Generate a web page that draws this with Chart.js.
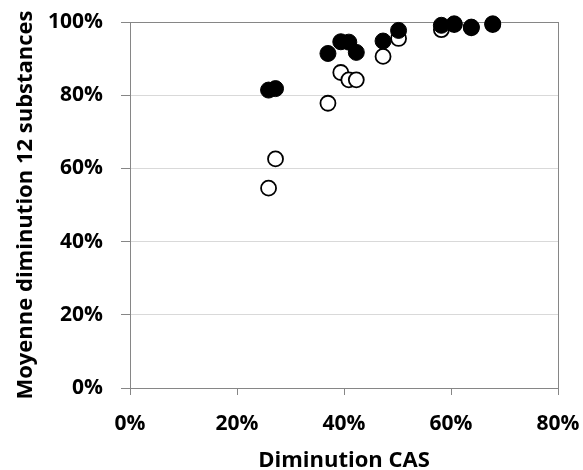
<!DOCTYPE html>
<html>
<head>
<meta charset="utf-8">
<script src="https://cdn.jsdelivr.net/npm/chart.js@4/dist/chart.umd.min.js"></script>
<style>
html,body{margin:0;padding:0;background:#fff;}
#wrap{width:583px;height:470px;}
</style>
</head>
<body>
<div id="wrap"><canvas id="c" width="583" height="470"></canvas></div>
<script>
// Diminution CAS (%) for each sample
const casReduction = [25.9, 27.2, 37.0, 39.4, 40.9, 42.3, 47.3, 50.2, 58.2, 60.6, 63.8, 67.8];
// Moyenne diminution 12 substances (%) - filled markers
const meanReductionFilled = [81.4, 81.8, 91.4, 94.6, 94.5, 91.7, 94.8, 97.7, 99.1, 99.5, 98.6, 99.5];
// Moyenne diminution 12 substances (%) - open markers
const meanReductionOpen = [54.6, 62.6, 77.8, 86.2, 84.2, 84.2, 90.6, 95.5, 97.9, 99.3, 98.4, 99.3];
const xTicks = [0, 20, 40, 60, 80];
const yTicks = [0, 20, 40, 60, 80, 100];
const xTitle = 'Diminution CAS';
const yTitle = 'Moyenne diminution 12 substances';

const toPoints = (xs, ys) => xs.map((x, i) => ({x: x, y: ys[i]}));
const axisGray = '#868686';
const gridGray = '#d9d9d9';
const tickFont = {family: '"Open Sans", sans-serif', weight: 'bold', size: 21};
const titleFont = {family: '"Open Sans", sans-serif', weight: 'bold', size: 22};
const xTitleFont = {family: '"Open Sans", sans-serif', weight: 'bold', size: 22, lineHeight: 0.8};
const noPad = s => { s.paddingLeft = 0; s.paddingRight = 0; s.paddingTop = 0; s.paddingBottom = 0; };

new Chart(document.getElementById('c'), {
  type: 'scatter',
  data: {
    datasets: [
      {
        label: 'filled',
        data: toPoints(casReduction, meanReductionFilled),
        clip: false,
        pointRadius: 8,
        pointBackgroundColor: '#000',
        pointBorderColor: '#000',
        pointBorderWidth: 1
      },
      {
        label: 'open',
        data: toPoints(casReduction, meanReductionOpen),
        clip: false,
        pointRadius: 7.5,
        pointBackgroundColor: '#fff',
        pointBorderColor: '#000',
        pointBorderWidth: 1.8
      }
    ]
  },
  options: {
    responsive: false,
    animation: false,
    events: [],
    layout: {padding: {top: 22, right: 25, left: 0, bottom: 0}},
    plugins: {legend: {display: false}, tooltip: {enabled: false}},
    scales: {
      x: {
        type: 'linear',
        min: 0, max: 80,
        afterBuildTicks: s => { s.ticks = xTicks.map(v => ({value: v})); },
        afterFit: s => { s.height = 82; noPad(s); },
        ticks: {color: '#000', font: tickFont, padding: 16, callback: v => v + '%', maxRotation: 0},
        grid: {
          drawOnChartArea: true,
          color: c => (c.tick && c.tick.value === 80) ? axisGray : 'rgba(0,0,0,0)',
          tickColor: axisGray,
          tickLength: 7,
          lineWidth: 1
        },
        border: {color: axisGray, width: 1},
        title: {display: true, text: xTitle, color: '#000', font: xTitleFont, padding: {top: 14, bottom: 0}}
      },
      y: {
        type: 'linear',
        min: 0, max: 100,
        afterBuildTicks: s => { s.ticks = yTicks.map(v => ({value: v})); },
        afterFit: s => { s.width = 130; noPad(s); },
        ticks: {color: '#000', font: tickFont, padding: 18, callback: v => v + '%'},
        grid: {
          color: c => (c.tick && c.tick.value === 100) ? axisGray : gridGray,
          tickColor: axisGray,
          tickLength: 9,
          lineWidth: 1
        },
        border: {color: axisGray, width: 1},
        title: {display: true, text: yTitle, color: '#000', font: titleFont, padding: {top: 13, bottom: 0}}
      }
    }
  }
});
</script>
</body>
</html>
